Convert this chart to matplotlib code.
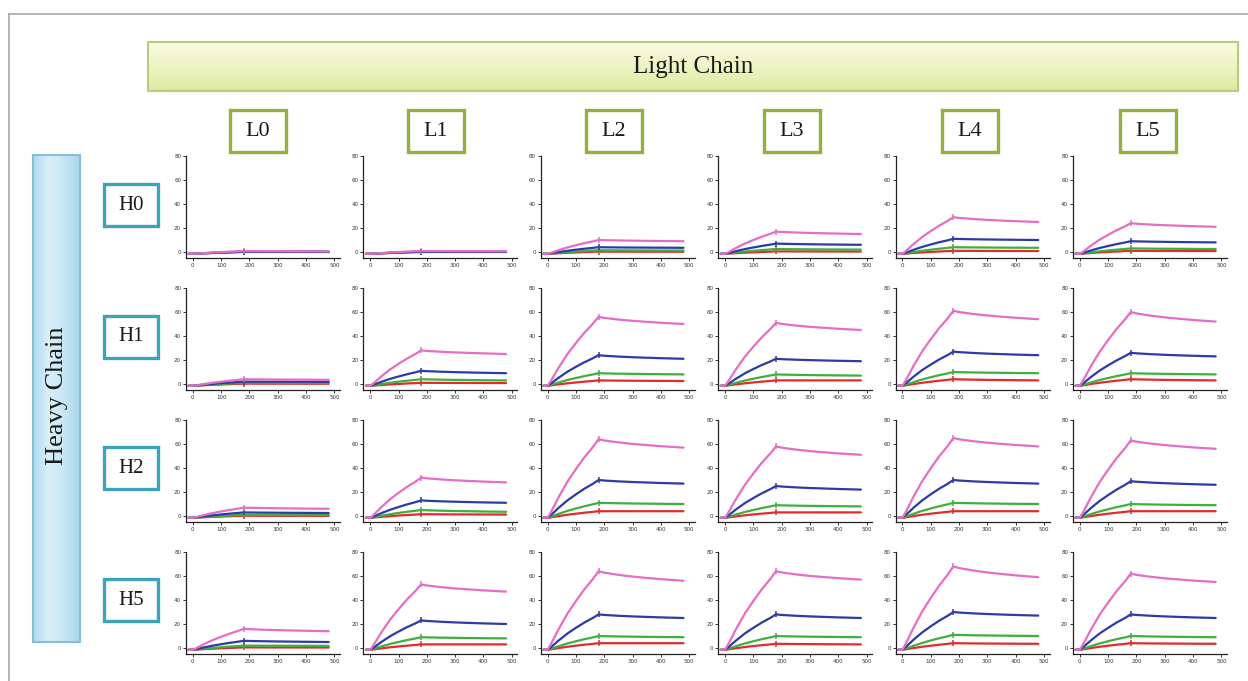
import numpy as np
import matplotlib
matplotlib.use("Agg")
import matplotlib.pyplot as plt
from matplotlib.patches import Rectangle
from matplotlib.lines import Line2D
from matplotlib.colors import LinearSegmentedColormap

W, H = 1248, 681
fig = plt.figure(figsize=(W / 100, H / 100), dpi=100)
fig.patch.set_facecolor("white")

# ---------------- data ----------------
light_chains = ["L0", "L1", "L2", "L3", "L4", "L5"]
heavy_chains = ["H0", "H1", "H2", "H5"]

# response at end of association (t=180 s), rows = heavy chain, cols = light chain
pink_peak = [[0.8, 0.9, 10, 17, 29, 24],
             [4, 28, 56, 51, 61, 60],
             [7, 32, 64, 58, 65, 63],
             [16, 53, 64, 64, 68, 62]]
pink_end = [[0.5, 0.6, 9, 15, 25, 21],
            [3.5, 25, 50, 45, 54, 52],
            [6, 28, 57, 51, 58, 56],
            [14, 47, 56, 57, 59, 55]]
blue_peak = [[0.3, 0.3, 4, 7, 11, 9],
             [2, 11, 24, 21, 27, 26],
             [3, 13, 30, 25, 30, 29],
             [6, 23, 28, 28, 30, 28]]
blue_end = [[0.2, 0.2, 3.5, 6, 10, 8],
            [1.8, 9, 21, 19, 24, 23],
            [2.5, 11, 27, 22, 27, 26],
            [5, 20, 25, 25, 27, 25]]
green_peak = [[0.2, 0.2, 1.5, 2.5, 4, 3],
              [1, 4, 9, 8, 10, 9],
              [1, 5, 11, 9, 11, 10],
              [2, 9, 10, 10, 11, 10]]
green_end = [[0.1, 0.1, 1.2, 2, 3.5, 2.5],
             [0.8, 3, 8, 7, 9, 8],
             [0.8, 3.5, 10, 8, 10, 9],
             [1.8, 8, 9, 9, 10, 9]]
red_peak = [[0, 0, 0.3, 0.5, 1, 1],
            [0.3, 1, 3, 3, 4, 4],
            [0.2, 1.5, 4, 3, 4, 4],
            [0.5, 3, 4, 3.5, 4, 4]]
red_end = [[0, 0, 0.2, 0.4, 0.8, 0.8],
           [0.2, 0.8, 2.5, 3, 3, 3],
           [0.1, 1.2, 4, 3, 4, 4],
           [0.4, 3, 4, 3, 3.5, 3.5]]

baseline = -1.5
# normalised sensorgram profile
assoc_t = [-15, 0, 10, 20, 40, 70, 100, 130, 160, 180]
assoc_frac = [0.0, 0.0, 0.06, 0.13, 0.27, 0.46, 0.62, 0.77, 0.90, 1.0]
diss_t = [180, 200, 250, 300, 350, 400, 480]
diss_frac = [0.0, 0.15, 0.38, 0.56, 0.70, 0.83, 1.0]

x_ticks = [0, 100, 200, 300, 400, 500]
y_ticks = [0, 20, 40, 60, 80]

series = [
    ("red", red_peak, red_end, "#e42a2a"),
    ("green", green_peak, green_end, "#3db03d"),
    ("blue", blue_peak, blue_end, "#2e3aa6"),
    ("pink", pink_peak, pink_end, "#e56ec4"),
]


def fx(px):
    return px / W


def fy(py):
    return 1 - py / H


# ---------------- outer frame ----------------
fig.add_artist(Line2D([fx(9), fx(1248)], [fy(14), fy(14)], color="#a8a8a8", lw=1.2))
fig.add_artist(Line2D([fx(9), fx(9)], [fy(14), fy(681)], color="#a8a8a8", lw=1.2))


def gradient_box(x0, y0, x1, y1, cols, direction, edge, lw):
    ax = fig.add_axes([fx(x0), fy(y1), fx(x1) - fx(x0), fy(y0) - fy(y1)])
    ax.set_axis_off()
    cmap = LinearSegmentedColormap.from_list("g", cols)
    g = np.linspace(0, 1, 256)
    if direction == "v":
        img = g[:, None] * np.ones((1, 2))
    else:
        img = g[None, :] * np.ones((2, 1))
    ax.imshow(img, cmap=cmap, aspect="auto", extent=[0, 1, 0, 1], origin="upper")
    ax.add_patch(Rectangle((0, 0), 1, 1, transform=ax.transAxes, fill=False,
                           edgecolor=edge, lw=lw, clip_on=False))
    ax.set_xlim(0, 1)
    ax.set_ylim(0, 1)
    return ax


# Light chain banner
gradient_box(148, 42, 1238, 91, ["#fbfce6", "#eef4c4", "#dde8a2"], "v", "#b9cc7a", 1.5)
fig.text(fx(693), fy(67), "Light Chain", family="Liberation Serif", fontsize=18,
         ha="center", va="center", color="#1a1a1a")

# Heavy chain banner
gradient_box(33, 155, 80, 642, ["#aed9ee", "#d9f0f9", "#c6e7f5", "#a9d6ec"], "h", "#86c0d8", 1.5)
fig.text(fx(57), fy(396), "Heavy Chain", family="Liberation Serif", fontsize=19,
         ha="center", va="center", rotation=90, color="#1a1a1a")

# L labels
for c, lab in enumerate(light_chains):
    cx = 258 + 178 * c
    fig.add_artist(Rectangle((fx(cx - 28), fy(152)), fx(56), fy(110) - fy(152),
                             transform=fig.transFigure, facecolor="white",
                             edgecolor="#93b040", lw=2.4))
    fig.text(fx(cx), fy(131), lab, family="Liberation Serif", fontsize=16,
             ha="center", va="center", color="#1a1a1a")

# H labels
for r, lab in enumerate(heavy_chains):
    cy = 205 + 131.7 * r
    fig.add_artist(Rectangle((fx(104), fy(cy + 21)), fx(54), fy(cy - 21) - fy(cy + 21),
                             transform=fig.transFigure, facecolor="white",
                             edgecolor="#3ea2bd", lw=2.4))
    fig.text(fx(131), fy(cy), lab, family="Liberation Serif", fontsize=15,
             ha="center", va="center", color="#1a1a1a")

# ---------------- panels ----------------
for r in range(4):
    for c in range(6):
        left = 186 + 177.4 * c
        top = 156 + 132 * r
        ax = fig.add_axes([fx(left), fy(top + 102), fx(154), fy(top) - fy(top + 102)])
        for name, peak, end, col in series:
            p = peak[r][c]
            e = end[r][c]
            ya = [baseline + f * (p - baseline) for f in assoc_frac]
            yd = [p - f * (p - e) for f in diss_frac]
            ax.plot(assoc_t + diss_t[1:], ya + yd[1:], color=col, lw=1.6,
                    solid_capstyle="round", solid_joinstyle="round", zorder=3)
            ax.plot([180], [p], marker="|", ms=5, mew=1.1, color=col, zorder=4)
        ax.set_xlim(-24, 520)
        ax.set_ylim(-5, 80)
        ax.set_xticks(x_ticks)
        ax.set_yticks(y_ticks)
        for s in ["top", "right"]:
            ax.spines[s].set_visible(False)
        for s in ["left", "bottom"]:
            ax.spines[s].set_linewidth(0.9)
            ax.spines[s].set_color("#222222")
        ax.tick_params(axis="both", direction="out", length=2, width=0.7,
                       labelsize=4, pad=1.5, colors="#333333")
        ax.set_facecolor("none")

fig.savefig("out.png", dpi=100, facecolor="white")
